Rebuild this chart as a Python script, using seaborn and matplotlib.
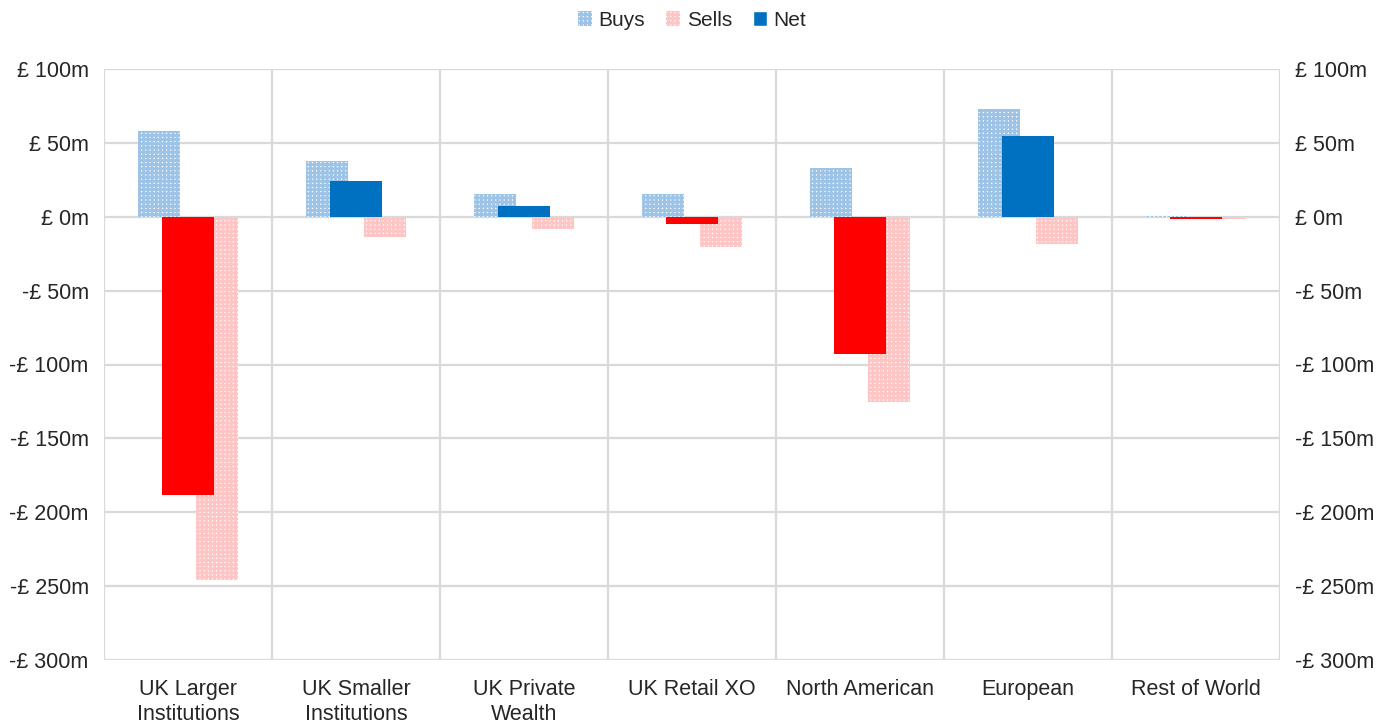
import numpy as np
import pandas as pd
import matplotlib
matplotlib.use("Agg")
import matplotlib.pyplot as plt
import seaborn as sns
from matplotlib.patches import Patch
from matplotlib.ticker import FuncFormatter, FixedLocator

# values in £m
categories = ["UK Larger\nInstitutions", "UK Smaller\nInstitutions", "UK Private\nWealth",
              "UK Retail XO", "North American", "European", "Rest of World"]
buys = [58, 38, 15.5, 15.5, 33, 73, 0.3]
sells = [-246, -13.5, -8, -20.3, -125.7, -18.2, -1.8]
net = [-188, 24.5, 7.5, -4.8, -92.7, 54.8, -1.5]

BUY_COL = "#9DC3E6"
SELL_COL = "#FFC5C5"
POS_COL = "#0070C0"
NEG_COL = "#FF0000"
GRID_COL = "#D9D9D9"

sns.set_style("white")
plt.rcParams["font.family"] = ["Liberation Sans", "DejaVu Sans"]
plt.rcParams["hatch.linewidth"] = 2.0

flows = pd.DataFrame({
    "category": categories * 2,
    "flow": ["Buys"] * len(categories) + ["Sells"] * len(categories),
    "value": buys + sells,
})
net_df = pd.DataFrame({
    "category": categories,
    "value": net,
    "sign": ["pos" if v >= 0 else "neg" for v in net],
})

fig = plt.figure(figsize=(13.93, 7.28), dpi=100)
ax = fig.add_axes([104 / 1393, 1 - 660 / 728, (1280 - 104) / 1393, (660 - 69) / 728])

sns.barplot(data=flows, x="category", y="value", hue="flow", hue_order=["Buys", "Sells"],
            palette=[BUY_COL, SELL_COL], width=0.69, gap=0.26, errorbar=None,
            saturation=1, legend=False, ax=ax)

# patterned fill for buys / sells
for cont, col in zip(ax.containers, [BUY_COL, SELL_COL]):
    for bar in cont:
        bar.set_facecolor("white")
        bar.set_edgecolor(col)
        bar.set_linewidth(0)
        bar.set_hatch("++++")

ax2 = ax.twinx()
sns.barplot(data=net_df, x="category", y="value", hue="sign",
            palette={"pos": POS_COL, "neg": NEG_COL}, dodge=False, width=0.315,
            errorbar=None, saturation=1, linewidth=0, legend=False, ax=ax2)

fmt = FuncFormatter(lambda v, p: f"£ {v:.0f}m" if v >= 0 else f"-£ {abs(v):.0f}m")
for a in (ax, ax2):
    a.set_ylim(-300, 100)
    a.yaxis.set_major_locator(FixedLocator(np.arange(-300, 101, 50)))
    a.yaxis.set_major_formatter(fmt)
    a.set_xlim(-0.5, len(categories) - 0.5)
    a.set_xlabel("")
    a.set_ylabel("")
    for s in a.spines.values():
        s.set_visible(False)
    a.tick_params(axis="y", length=0, labelsize=15.5, pad=11)

ax.set_xticks(range(len(categories)))
ax.set_xticklabels(categories)
ax.tick_params(axis="x", length=0, labelsize=15.5, pad=14)
ax.set_xticks(np.arange(-0.5, len(categories), 1), minor=True)
ax.tick_params(axis="x", which="minor", length=0)
ax.grid(axis="y", which="major", color=GRID_COL, linewidth=1.6)
ax.grid(axis="x", which="minor", color=GRID_COL, linewidth=1.6)
ax.grid(axis="x", which="major", visible=False)
ax.set_axisbelow(True)
ax2.tick_params(axis="x", bottom=False, labelbottom=False)

handles = [
    Patch(facecolor="white", edgecolor=BUY_COL, linewidth=0, hatch="++++", label="Buys"),
    Patch(facecolor="white", edgecolor=SELL_COL, linewidth=0, hatch="++++", label="Sells"),
    Patch(facecolor=POS_COL, label="Net"),
]
ax.legend(handles=handles, loc="lower center", bbox_to_anchor=(0.5, 1.035), ncol=3,
          frameon=False, fontsize=15, handlelength=0.7, handleheight=0.7,
          handletextpad=0.3, columnspacing=1.0)

fig.savefig("out.png", dpi=100)
